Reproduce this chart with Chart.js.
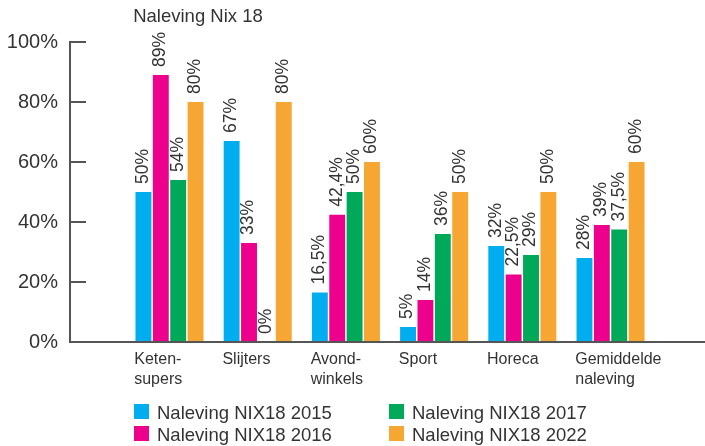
<!DOCTYPE html>
<html>
<head>
<meta charset="utf-8">
<script src="https://cdn.jsdelivr.net/npm/chart.js@4/dist/chart.umd.min.js"></script>
<style>
  html, body { margin: 0; padding: 0; background: #fff; }
  #wrap { width: 705px; height: 446px; position: relative; }
</style>
</head>
<body>
<div id="wrap"><canvas id="c"></canvas></div>
<script>
const titleText = 'Naleving Nix 18';
const categories = [['Keten-', 'supers'], ['Slijters'], ['Avond-', 'winkels'], ['Sport'], ['Horeca'], ['Gemiddelde', 'naleving']];
const seriesLabels = ['Naleving NIX18 2015', 'Naleving NIX18 2016', 'Naleving NIX18 2017', 'Naleving NIX18 2022'];
const values2015 = [50, 67, 16.5, 5, 32, 28];
const values2016 = [89, 33, 42.4, 14, 22.5, 39];
const values2017 = [54, 0, 50, 36, 29, 37.5];
const values2022 = [80, 80, 60, 50, 50, 60];
const yTicks = [0, 20, 40, 60, 80, 100];
const colors = ['#00AEEF', '#EC008C', '#00A859', '#F6A633'];

const FONT = "'Liberation Sans', Arial, sans-serif";
const TEXT = '#333333';
const AXIS = '#555555';

const allSeries = [values2015, values2016, values2017, values2022];
const datasets = allSeries.map((vals, s) => ({
  label: seriesLabels[s],
  data: vals.map((v, i) => ({ x: i, y: v })),
  backgroundColor: colors[s],
  borderWidth: 0,
  categoryPercentage: 0.788,
  barPercentage: 0.915
}));

const fmt = v => String(v).replace('.', ',') + '%';

const valueLabels = {
  id: 'valueLabels',
  afterDatasetsDraw(chart) {
    const ctx = chart.ctx;
    ctx.save();
    ctx.fillStyle = TEXT;
    ctx.font = '17.5px ' + FONT;
    ctx.textAlign = 'left';
    ctx.textBaseline = 'middle';
    chart.data.datasets.forEach((ds, di) => {
      const meta = chart.getDatasetMeta(di);
      meta.data.forEach((bar, j) => {
        ctx.save();
        ctx.translate(bar.x - 0.5, bar.y - 8);
        ctx.rotate(-Math.PI / 2);
        ctx.fillText(fmt(ds.data[j].y), 0, 0);
        ctx.restore();
      });
    });
    ctx.restore();
  }
};

const titleAndLegend = {
  id: 'titleAndLegend',
  afterDraw(chart) {
    const ctx = chart.ctx;
    const xs = chart.scales.x;
    ctx.save();
    ctx.fillStyle = TEXT;
    ctx.font = '18.5px ' + FONT;
    ctx.textAlign = 'left';
    ctx.textBaseline = 'alphabetic';
    ctx.fillText(titleText, xs.getPixelForValue(-0.40) - 1, 22);
    // legend: column-major 2x2
    const colX = [134, 389];
    const rowY = [404, 426];
    chart.data.datasets.forEach((ds, i) => {
      const col = Math.floor(i / 2), row = i % 2;
      ctx.fillStyle = ds.backgroundColor;
      ctx.fillRect(colX[col], rowY[row], 15, 15);
      ctx.fillStyle = TEXT;
      ctx.fillText(ds.label, colX[col] + 23, rowY[row] + 15);
    });
    ctx.restore();
  }
};

new Chart(document.getElementById('c'), {
  type: 'bar',
  data: { datasets },
  plugins: [valueLabels, titleAndLegend],
  options: {
    responsive: true,
    maintainAspectRatio: false,
    animation: false,
    layout: { padding: { top: 42, left: 0, right: 0, bottom: 0 } },
    plugins: {
      legend: { display: false },
      title: { display: false },
      tooltip: { enabled: false }
    },
    scales: {
      x: {
        type: 'linear',
        min: -1.128,
        max: 6.071,
        bounds: 'data',
        offset: false,
        grid: { display: false, drawTicks: false, offset: false },
        border: { display: true, color: AXIS, width: 2 },
        afterBuildTicks: scale => {
          scale.ticks = categories.map((c, i) => ({ value: i - 0.40 }));
        },
        afterFit: scale => { scale.height = 104; },
        ticks: {
          autoSkip: false,
          maxRotation: 0,
          minRotation: 0,
          align: 'start',
          padding: 8,
          color: TEXT,
          font: { family: FONT, size: 16, lineHeight: 1.25 },
          callback: (v, i) => categories[i]
        }
      },
      y: {
        min: 0,
        max: 100,
        afterBuildTicks: scale => {
          scale.ticks = yTicks.map(v => ({ value: v }));
        },
        afterFit: scale => { scale.width = 70; },
        grid: { drawOnChartArea: false, drawTicks: true, tickLength: -16, color: AXIS, lineWidth: 2 },
        border: { display: true, color: AXIS, width: 2 },
        ticks: {
          padding: 28,
          color: TEXT,
          font: { family: FONT, size: 20 },
          callback: v => v + '%'
        }
      }
    }
  }
});
</script>
</body>
</html>
